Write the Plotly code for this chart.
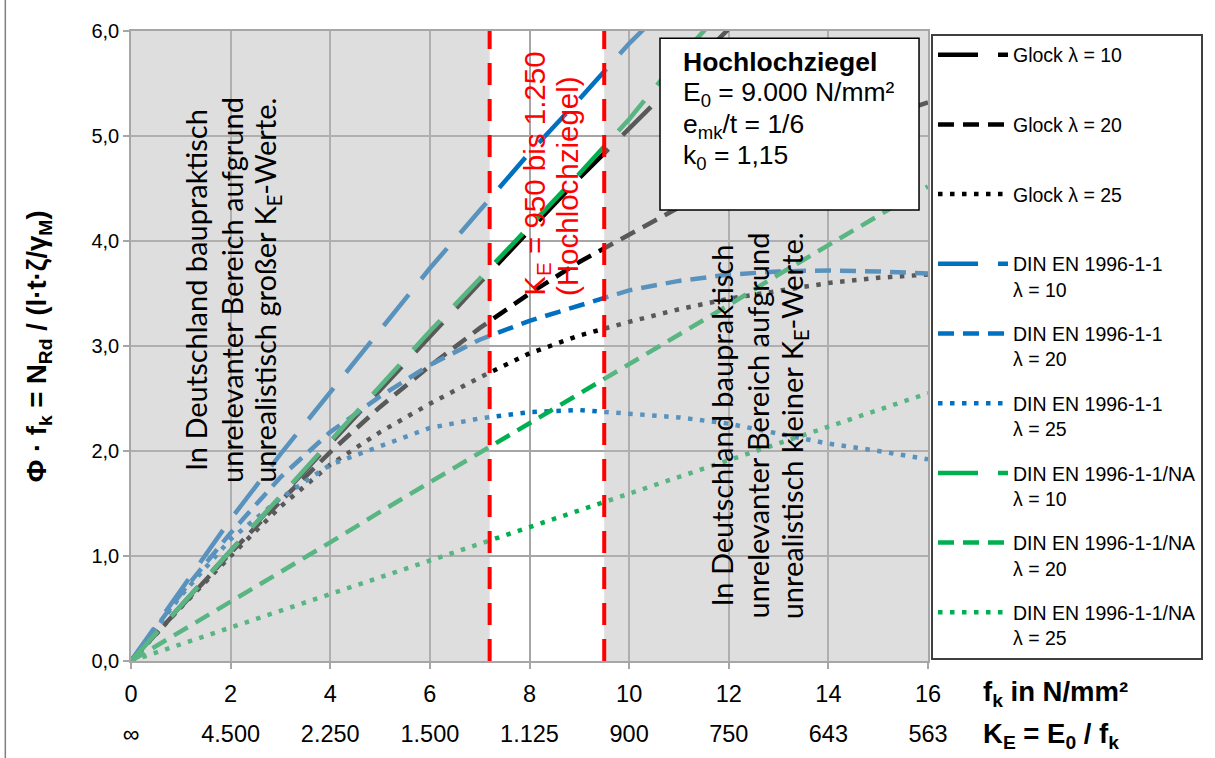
import plotly.graph_objects as go

# ---------------- data ----------------
fk = [0, 1, 2, 3, 4, 5, 6, 7, 8, 9, 10, 11, 12, 13, 14, 15, 16]

glock_l10 = [0, 0.53, 1.05, 1.56, 2.07, 2.58, 3.10, 3.60, 4.10, 4.60, 5.07, 5.55, 6.02]
glock_l20 = [0, 0.52, 1.03, 1.52, 1.99, 2.42, 2.81, 3.17, 3.50, 3.80, 4.06, 4.32, 4.55, 4.77, 4.98, 5.16, 5.32]
glock_l25 = [0, 0.51, 1.00, 1.47, 1.87, 2.18, 2.45, 2.70, 2.93, 3.10, 3.23, 3.35, 3.45, 3.53, 3.60, 3.65, 3.68]
din_l10 = [0, 0.68, 1.35, 1.97, 2.56, 3.16, 3.74, 4.29, 4.84, 5.35, 5.88, 6.35]
din_l20 = [0, 0.64, 1.22, 1.75, 2.18, 2.52, 2.82, 3.06, 3.24, 3.39, 3.53, 3.62, 3.68, 3.71, 3.72, 3.71, 3.69]
din_l25 = [0, 0.62, 1.16, 1.55, 1.87, 2.05, 2.22, 2.31, 2.37, 2.39, 2.36, 2.32, 2.26, 2.16, 2.07, 2.00, 1.92]
na_l10 = [0, 0.53, 1.05, 1.57, 2.09, 2.62, 3.14, 3.64, 4.14, 4.64, 5.16, 5.74, 6.26]
na_l20 = [0, 0.28, 0.57, 0.85, 1.13, 1.42, 1.70, 1.98, 2.26, 2.55, 2.83, 3.11, 3.39, 3.68, 3.96, 4.24, 4.52]
na_l25 = [0, 0.16, 0.32, 0.48, 0.64, 0.80, 0.96, 1.12, 1.27, 1.43, 1.59, 1.75, 1.91, 2.07, 2.23, 2.39, 2.55]

series_names = [
    "Glock λ = 10<br> ", "Glock λ = 20<br> ", "Glock λ = 25<br> ",
    "DIN EN 1996-1-1<br>λ = 10", "DIN EN 1996-1-1<br>λ = 20", "DIN EN 1996-1-1<br>λ = 25",
    "DIN EN 1996-1-1/NA<br>λ = 10", "DIN EN 1996-1-1/NA<br>λ = 20", "DIN EN 1996-1-1/NA<br>λ = 25",
]
series_values = [glock_l10, glock_l20, glock_l25, din_l10, din_l20, din_l25, na_l10, na_l20, na_l25]

fk_ticks = [0, 2, 4, 6, 8, 10, 12, 14, 16]
ke_labels = ["∞", "4.500", "2.250", "1.500", "1.125", "900", "750", "643", "563"]
y_ticks = [0, 1, 2, 3, 4, 5, 6]

ke_band = [7.2, 9.5]   # fk for K_E = 1.250 ... 950

info_lines = ["<b>Hochlochziegel</b>", "E<sub>0</sub> = 9.000 N/mm²",
              "e<sub>mk</sub>/t = 1/6", "k<sub>0</sub> = 1,15"]

# ---------------- styles ----------------
BLACK, BLUE, GREEN = "#000000", "#0070C0", "#00B050"
colors = [BLACK] * 3 + [BLUE] * 3 + [GREEN] * 3
dashes = ["40px,20px", "16px,9px", "4.5px,7.5px"] * 3
FONT = "Liberation Sans, Arial, sans-serif"
TEXTFONT = "Lato, Open Sans, sans-serif"

fig = go.Figure()
for name, vals, col, dsh in zip(series_names, series_values, colors, dashes):
    fig.add_trace(go.Scatter(
        x=fk[:len(vals)], y=vals, mode="lines", name=name,
        legendgroup=name,
        line=dict(color=col, width=4.5, dash=dsh),
    ))
# helper trace for the secondary (K_E) axis
fig.add_trace(go.Scatter(x=[fk[0], fk[-1]], y=[None, None], xaxis="x2",
                         showlegend=False, hoverinfo="skip"))

GRID = "#A6A6A6"
fig.update_layout(
    width=1215, height=758, autosize=False,
    margin=dict(l=131, r=285, t=31, b=97),
    paper_bgcolor="white", plot_bgcolor="white",
    separators=",.",
    font=dict(family=FONT, color="black"),
    xaxis=dict(range=[0, 16], tickvals=fk_ticks, showgrid=True, gridcolor=GRID, gridwidth=1.5,
               showline=True, linecolor=GRID, linewidth=1.5, mirror=True, zeroline=False,
               ticks="outside", ticklen=6, tickcolor=GRID, tickwidth=1.5,
               tickfont=dict(size=23.5, family=FONT), ticklabelstandoff=5),
    xaxis2=dict(range=[0, 16], overlaying="x", side="bottom", anchor="y",
                tickvals=fk_ticks, ticktext=ke_labels, showgrid=False, showline=False,
                zeroline=False, ticks="", tickfont=dict(size=23.5, family=FONT),
                ticklabelstandoff=56),
    yaxis=dict(range=[0, 6], tickvals=y_ticks, tickformat=".1f", showgrid=True, gridcolor=GRID,
               gridwidth=1.5, showline=True, linecolor=GRID, linewidth=1.5, mirror=True,
               zeroline=False, ticks="outside", ticklen=6, tickcolor=GRID, tickwidth=1.5,
               tickfont=dict(size=20, family=FONT)),
    legend=dict(x=1.0038, xanchor="left", y=0.996, yanchor="top",
                bgcolor="white", bordercolor="#404040", borderwidth=2,
                font=dict(size=19.5, family=FONT), traceorder="grouped",
                tracegroupgap=16, valign="top", itemwidth=70, maxheight=745),
    showlegend=True,
)

# grey overlay regions (outside the K_E band), drawn above the curves
OVER = "rgba(186,186,186,0.478)"
fig.add_shape(type="rect", xref="x", yref="y", x0=0, x1=ke_band[0], y0=0, y1=6,
              fillcolor=OVER, line=dict(width=0), layer="above")
fig.add_shape(type="rect", xref="x", yref="y", x0=ke_band[1], x1=16, y0=0, y1=6,
              fillcolor=OVER, line=dict(width=0), layer="above")
for xb in ke_band:
    fig.add_shape(type="line", xref="x", yref="y", x0=xb, x1=xb, y0=0, y1=6,
                  line=dict(color="#FF0000", width=4, dash="22px,14px"), layer="above")

# info box
fig.add_shape(type="rect", xref="x", yref="y", x0=10.62, x1=15.82, y0=4.295, y1=5.93,
              fillcolor="white", line=dict(color="black", width=1.5), layer="above")
for txt, yv in zip(info_lines, [5.705, 5.40, 5.095, 4.80]):
    fig.add_annotation(xref="x", yref="y", x=11.04, y=yv, xanchor="left", yanchor="middle",
                       align="left", showarrow=False,
                       font=dict(size=26.5, family=FONT, color="black"), text=txt)

# chart left border
fig.add_shape(type="line", xref="paper", yref="paper", x0=-0.1577, x1=-0.1577,
              y0=-0.16, y1=1.06, line=dict(color="#7F7F7F", width=1.5))

# rotated explanatory texts
left_lines = ["In Deutschland baupraktisch", "unrelevanter Bereich aufgrund",
              "unrealistisch großer K<sub>E</sub>-Werte."]
right_lines = ["In Deutschland baupraktisch", "unrelevanter Bereich aufgrund",
               "unrealistisch kleiner K<sub>E</sub>-Werte."]
for txt, xp in zip(left_lines, [1.30, 2.02, 2.72]):
    fig.add_annotation(xref="x", yref="y", x=xp, y=3.53, text=txt, textangle=-90,
                       showarrow=False, xanchor="center", yanchor="middle",
                       font=dict(size=29, family=TEXTFONT, color="black"))
for txt, xp in zip(right_lines, [11.86, 12.58, 13.30]):
    fig.add_annotation(xref="x", yref="y", x=xp, y=2.24, text=txt, textangle=-90,
                       showarrow=False, xanchor="center", yanchor="middle",
                       font=dict(size=29, family=TEXTFONT, color="black"))
for txt, xp in zip(["K<sub>E</sub> = 950 bis 1.250", "(Hochlochziegel)"], [8.15, 8.76]):
    fig.add_annotation(xref="x", yref="y", x=xp, y=3.46, text=txt, textangle=-90,
                       showarrow=False, xanchor="center", yanchor="bottom",
                       font=dict(size=29.5, family=FONT, color="#FF0000"))

# axis titles
fig.add_annotation(xref="paper", yref="paper", x=-0.1164, y=0.5, textangle=-90,
                   showarrow=False, xanchor="center", yanchor="middle",
                   font=dict(size=27.5, family=FONT, color="black"),
                   text="<b>Φ · f<sub>k</sub> = N<sub>Rd</sub> / (l·t·ζ/γ<sub>M</sub>)</b>")
fig.add_annotation(xref="paper", yref="paper", x=1.066, y=-0.0508, xanchor="left",
                   yanchor="middle", showarrow=False,
                   font=dict(size=27.5, family=FONT, color="black"),
                   text="<b>f<sub>k</sub> in N/mm²</b>")
fig.add_annotation(xref="paper", yref="paper", x=1.066, y=-0.1175, xanchor="left",
                   yanchor="middle", showarrow=False,
                   font=dict(size=27.5, family=FONT, color="black"),
                   text="<b>K<sub>E</sub> = E<sub>0</sub> / f<sub>k</sub></b>")

fig.write_html("out.html")
